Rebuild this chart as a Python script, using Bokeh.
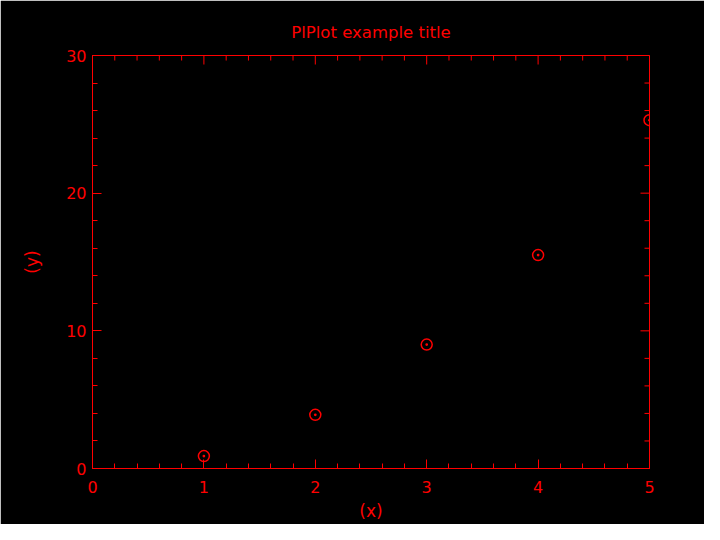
import math
from bokeh.plotting import figure
from bokeh.models import Range1d, SingleIntervalTicker, LinearAxis
from bokeh.embed import file_html
from bokeh.resources import INLINE

x_vals = [1, 2, 3, 4, 5]
y_vals = [0.9, 3.9, 9.0, 15.5, 25.3]
title_text = "PlPlot example title"
x_label = "(x)"
y_label = "(y)"
x_major = [0, 1, 2, 3, 4, 5]
x_minor = [i * 0.2 for i in range(26) if i % 5 != 0]
y_major = [0, 10, 20, 30]
y_minor = [i * 2 for i in range(16) if i % 5 != 0]

RED = "#ff0000"
FONT = "DejaVu Sans"

p = figure(width=704, height=524, output_backend="svg", toolbar_location=None,
           x_range=Range1d(0, 5), y_range=Range1d(0, 30),
           background_fill_color="black", border_fill_color="black",
           min_border_left=92, min_border_right=55, min_border_top=55,
           min_border_bottom=56, x_axis_location=None, y_axis_location=None)
p.grid.visible = False
p.outline_line_color = RED

p.title.text = title_text
p.title.align = "center"
p.title.text_color = RED
p.title.text_font = FONT
p.title.text_font_size = "16.5px"
p.title.text_font_style = "normal"
p.title.standoff = 28


def style(ax):
    ax.axis_line_color = RED
    ax.major_tick_line_color = RED
    ax.minor_tick_line_color = RED
    ax.major_tick_in = 9
    ax.major_tick_out = 0
    ax.minor_tick_in = 5
    ax.minor_tick_out = 0
    ax.major_label_text_color = RED
    ax.major_label_text_font = FONT
    ax.major_label_text_font_size = "16px"
    ax.axis_label_text_color = RED
    ax.axis_label_text_font = FONT
    ax.axis_label_text_font_size = "17px"
    ax.axis_label_text_font_style = "normal"


xb = LinearAxis(ticker=SingleIntervalTicker(interval=1, num_minor_ticks=5),
                axis_label=x_label)
style(xb)
xb.major_label_standoff = 12
xb.axis_label_standoff = 5
p.add_layout(xb, "below")

yl = LinearAxis(ticker=SingleIntervalTicker(interval=10, num_minor_ticks=5),
                axis_label=y_label)
style(yl)
yl.major_label_standoff = 6
yl.axis_label_standoff = 21
p.add_layout(yl, "left")

# top and right inward ticks
p.ray(x=x_major, y=[30] * len(x_major), length=9, length_units="screen",
      angle=-math.pi / 2, line_color=RED, line_width=1)
p.ray(x=x_minor, y=[30] * len(x_minor), length=5, length_units="screen",
      angle=-math.pi / 2, line_color=RED, line_width=1)
p.ray(x=[5] * len(y_major), y=y_major, length=9, length_units="screen",
      angle=math.pi, line_color=RED, line_width=1)
p.ray(x=[5] * len(y_minor), y=y_minor, length=5, length_units="screen",
      angle=math.pi, line_color=RED, line_width=1)

p.scatter(x_vals, y_vals, marker="circle_dot", size=11, line_color=RED,
          fill_color=None, line_width=1.5)

open("out.html", "w").write(file_html(p, INLINE))
